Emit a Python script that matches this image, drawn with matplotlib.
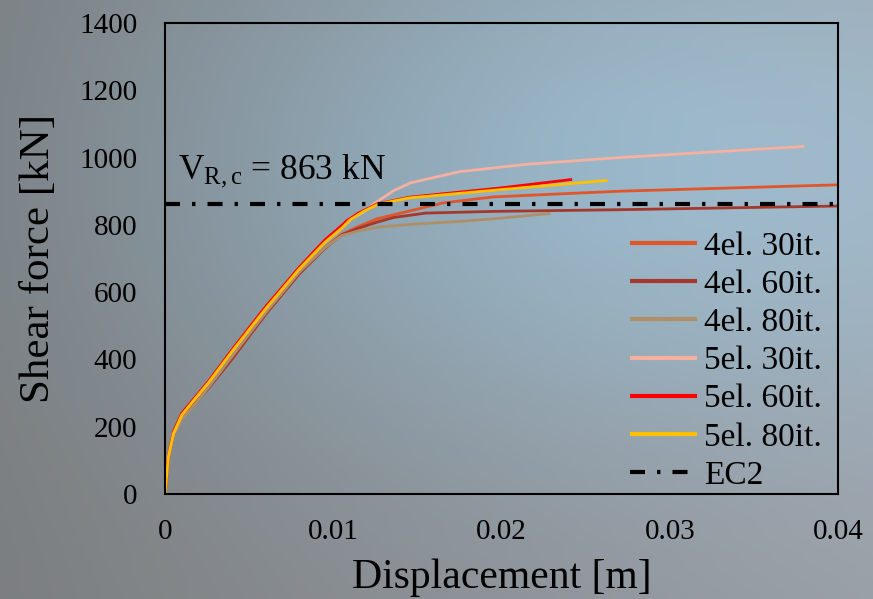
import numpy as np
import matplotlib
matplotlib.use("Agg")
import matplotlib.pyplot as plt

plt.rcParams['font.family'] = ['Liberation Serif', 'DejaVu Serif']
plt.rcParams['mathtext.fontset'] = 'custom'
plt.rcParams['mathtext.rm'] = 'Liberation Serif'
plt.rcParams['mathtext.it'] = 'Liberation Serif:italic'

# ---- data (displacement [m], shear force [kN]) ----
x_4el_30 = [0, 0.0002, 0.0005, 0.001, 0.0017, 0.0026, 0.004, 0.006, 0.008, 0.0095, 0.0105,
            0.0115, 0.0126, 0.0146, 0.0165, 0.0195, 0.027, 0.04]
y_4el_30 = [0, 105, 175, 225, 265, 318, 408, 538, 658, 732, 772,
            795, 818, 842, 865, 883, 900, 919]

x_4el_60 = [0, 0.0002, 0.0005, 0.001, 0.0017, 0.0026, 0.004, 0.006, 0.008, 0.0095, 0.0105,
            0.0115, 0.0126, 0.0136, 0.0155, 0.0195, 0.027, 0.04]
y_4el_60 = [0, 105, 175, 225, 265, 315, 402, 535, 655, 730, 770,
            790, 808, 822, 835, 840, 845, 856]

x_4el_80 = [0, 0.0002, 0.0005, 0.001, 0.0017, 0.0026, 0.004, 0.006, 0.008, 0.0095, 0.0105,
            0.0115, 0.0126, 0.015, 0.0175, 0.02, 0.0229]
y_4el_80 = [0, 105, 172, 222, 262, 318, 410, 540, 660, 732, 768,
            782, 793, 803, 810, 820, 834]

x_5el_30 = [0, 0.0002, 0.0005, 0.001, 0.0017, 0.0026, 0.004, 0.006, 0.008, 0.0095, 0.0105,
            0.0111, 0.0118, 0.0124, 0.0136, 0.0146, 0.0175, 0.0215, 0.027, 0.038]
y_5el_30 = [0, 110, 180, 235, 278, 332, 425, 552, 670, 748, 790,
            818, 838, 862, 902, 925, 958, 980, 1000, 1033]

x_5el_60 = [0, 0.0002, 0.0005, 0.001, 0.0017, 0.0026, 0.004, 0.006, 0.008, 0.0095, 0.0105,
            0.0108, 0.0115, 0.0126, 0.0145, 0.02, 0.0242]
y_5el_60 = [0, 112, 185, 240, 282, 336, 430, 558, 675, 755, 798,
            812, 835, 862, 882, 910, 935]

x_5el_80 = [0, 0.0002, 0.0005, 0.001, 0.0017, 0.0026, 0.004, 0.006, 0.008, 0.0095, 0.0105,
            0.011, 0.0118, 0.0127, 0.0145, 0.02, 0.0263]
y_5el_80 = [0, 110, 180, 235, 278, 332, 425, 552, 670, 748, 790,
            815, 840, 862, 880, 905, 932]

x_ec2 = [0, 0.04]
y_ec2 = [863, 863]

labels = ["4el. 30it.", "4el. 60it.", "4el. 80it.", "5el. 30it.", "5el. 60it.", "5el. 80it.", "EC2"]
colors = ["#e0562a", "#a5382c", "#ae8f68", "#f6b0a0", "#ff0000", "#ffc000"]

x_ticks = [0, 0.01, 0.02, 0.03, 0.04]
x_ticklabels = ["0", "0.01", "0.02", "0.03", "0.04"]
y_ticks = [0, 200, 400, 600, 800, 1000, 1200, 1400]

# ---- figure ----
fig = plt.figure(figsize=(8.73, 5.99), dpi=100)

# background gradient
bg = fig.add_axes([0, 0, 1, 1], zorder=-10)
H, W = 300, 440
yy, xx = np.mgrid[0:1:H * 1j, 0:1:W * 1j]
left = np.array([124, 126, 128]) / 255
right = np.array([154, 157, 163]) / 255
base = left[None, None, :] * (1 - xx[..., None]) + right[None, None, :] * xx[..., None]
blob = np.exp(-(((xx - 0.72) / 0.4) ** 2 / 2 + ((yy - 0.28) / 0.35) ** 2 / 2))
extra = np.array([8, 32, 44]) / 255
img = np.clip(base + blob[..., None] * extra[None, None, :] * 1.1, 0, 1)
bg.imshow(img, aspect='auto', extent=[0, 1, 0, 1], origin='upper')
bg.set_axis_off()

ax = fig.add_axes([165 / 873, 1 - 494 / 599, (838 - 165) / 873, (494 - 23) / 599])
ax.set_facecolor('none')

series = [(x_4el_30, y_4el_30), (x_4el_60, y_4el_60), (x_4el_80, y_4el_80),
          (x_5el_30, y_5el_30), (x_5el_60, y_5el_60), (x_5el_80, y_5el_80)]
for (xs, ys), c, lab in zip(series, colors, labels[:6]):
    ax.plot(xs, ys, color=c, lw=2.0, label=lab, solid_capstyle='butt')

ax.plot(x_ec2, y_ec2, color='black', lw=3.0, ls=(0, (3.6, 2.9, 0.8, 2.9)),
        label=labels[6], dash_capstyle='butt')

ax.set_xlim(0, 0.04)
ax.set_ylim(0, 1400)
ax.set_xticks(x_ticks)
ax.set_xticklabels(x_ticklabels)
ax.set_yticks(y_ticks)
ax.tick_params(axis='both', length=0, labelsize=21)
ax.tick_params(axis='y', pad=20)
ax.tick_params(axis='x', pad=18)
for s in ax.spines.values():
    s.set_linewidth(1.5)
    s.set_color('black')

ax.set_xlabel("Displacement [m]", fontsize=30, labelpad=10)
ax.set_ylabel("Shear force [kN]", fontsize=31, labelpad=15)

ax.text(0.0008, 938, r"$\mathrm{V_{R,c}}$ = 863 kN", fontsize=25.5, ha='left', va='baseline')

leg = ax.legend(loc='lower right', bbox_to_anchor=(1.0 - 13 / 673, 0.0), fontsize=24,
                frameon=False, handlelength=2.0, handletextpad=0.2, labelspacing=0.23,
                borderaxespad=0.0, borderpad=0.1)
for h in leg.get_lines():
    h.set_linewidth(3.0)

fig.savefig("out.png", dpi=100)
